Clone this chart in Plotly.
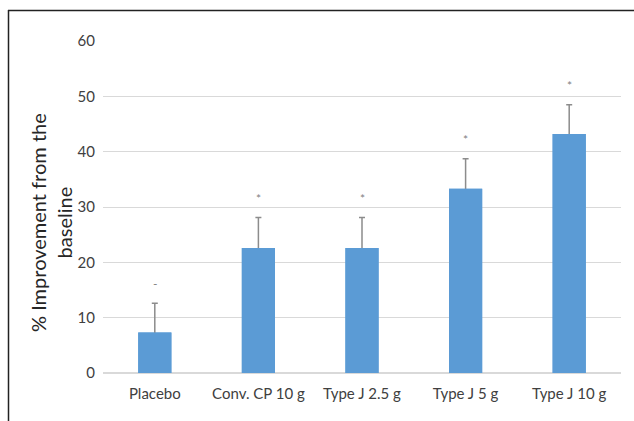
import plotly.graph_objects as go

categories = ["Placebo", "Conv. CP 10 g", "Type J 2.5 g", "Type J 5 g", "Type J 10 g"]
values = [7.3, 22.6, 22.6, 33.3, 43.2]
errors = [5.3, 5.5, 5.5, 5.4, 5.3]
marks = ["-", "*", "*", "*", "*"]
y_ticks = [0, 10, 20, 30, 40, 50, 60]

W, H = 634, 421
L, R, T, B = 103, 13, 41, 48
pw, ph = W - L - R, H - T - B

def px_x(p):
    return (p - L) / pw

def px_y(p):
    return (H - B - p) / ph

BAR = "#5B9BD5"
fig = go.Figure()
# error bars (upper only); the lower cap is hidden below the bar top by the overlaid bar
fig.add_trace(go.Bar(
    x=categories, y=values,
    marker=dict(color=BAR, line=dict(width=0)),
    width=0.32,
    error_y=dict(type="data", array=errors, symmetric=False, arrayminus=[0.5] * len(values),
                 color="#8c8c8c", thickness=1.5, width=3),
    hoverinfo="skip",
))
fig.add_trace(go.Bar(
    x=categories, y=values,
    marker=dict(color=BAR, line=dict(width=0)),
    width=0.32,
    hoverinfo="skip",
))

annotations = []
for c, v, e, m in zip(categories, values, errors, marks):
    annotations.append(dict(x=c, y=v + e, xref="x", yref="y", text=m, showarrow=False,
                            yanchor="bottom", yshift=10,
                            font=dict(family="Lato, sans-serif", size=12, color="#7f7f7f")))

annotations.append(dict(x=px_x(51), y=px_y(223), xref="paper", yref="paper",
                        text="% Improvement from the<br>baseline", textangle=-90,
                        showarrow=False, xanchor="center", yanchor="middle", align="center",
                        font=dict(family="Lato, sans-serif", size=20, color="#262626")))

shapes = [
    dict(type="line", xref="paper", yref="paper", x0=px_x(8), x1=px_x(634), y0=px_y(10.5), y1=px_y(10.5),
         line=dict(color="#222222", width=1.5)),
    dict(type="line", xref="paper", yref="paper", x0=px_x(8.5), x1=px_x(8.5), y0=px_y(10), y1=px_y(421),
         line=dict(color="#222222", width=1.5)),
]

fig.update_layout(
    width=W, height=H,
    margin=dict(l=L, r=R, t=T, b=B),
    paper_bgcolor="white", plot_bgcolor="white",
    showlegend=False,
    barmode="overlay",
    font=dict(family="Lato, sans-serif", size=15, color="#595959"),
    xaxis=dict(showgrid=False, showline=False, ticks="", ticklabelstandoff=10,
               tickfont=dict(size=15, color="#404040")),
    yaxis=dict(range=[0, 60], tickvals=y_ticks, showgrid=True, gridcolor="#d9d9d9", gridwidth=1,
               zeroline=True, zerolinecolor="#d9d9d9", zerolinewidth=1.5, showline=False,
               ticks="", ticklabelstandoff=7, tickfont=dict(size=15, color="#404040")),
    annotations=annotations,
    shapes=shapes,
)

fig.write_html("out.html")
